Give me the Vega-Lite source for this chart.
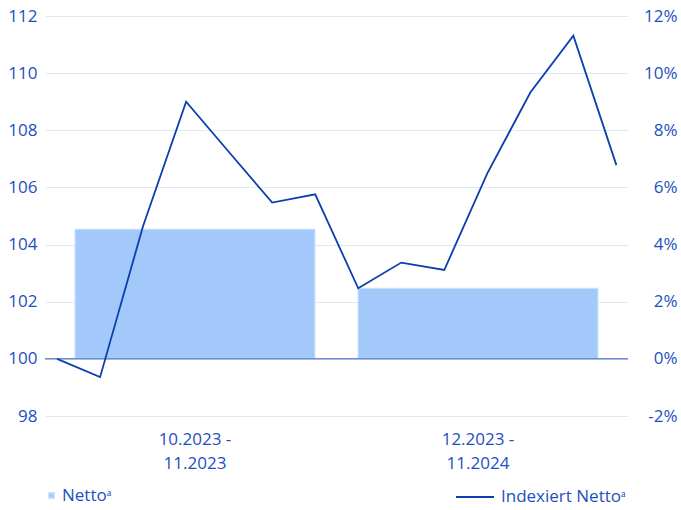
{
  "$schema": "https://vega.github.io/schema/vega-lite/v6.json",
  "width": 583,
  "height": 400,
  "autosize": {"type": "none"},
  "padding": {"left": 45, "top": 16, "right": 53, "bottom": 94},
  "background": "white",
  "config": {
    "view": {"stroke": null},
    "font": "Open Sans",
    "axis": {"labelFont": "Open Sans", "labelFontSize": 17, "labelColor": "#1d4fc0", "title": null, "domain": false, "ticks": false, "tickSize": 0},
    "legend": {"labelFont": "Open Sans", "labelFontSize": 17, "labelColor": "#1d4fc0", "title": null, "padding": 0}
  },
  "datasets": {
    "bars": [
      {"period": "10.2023 - 11.2023", "netto": 4.54},
      {"period": "12.2023 - 11.2024", "netto": 2.47}
    ],
    "series": [
      {"idx": 0, "value": 100.0},
      {"idx": 1, "value": 99.36},
      {"idx": 2, "value": 104.65},
      {"idx": 3, "value": 109.0},
      {"idx": 4, "value": 107.23},
      {"idx": 5, "value": 105.47},
      {"idx": 6, "value": 105.76},
      {"idx": 7, "value": 102.47},
      {"idx": 8, "value": 103.37},
      {"idx": 9, "value": 103.11},
      {"idx": 10, "value": 106.49},
      {"idx": 11, "value": 109.32},
      {"idx": 12, "value": 111.31},
      {"idx": 13, "value": 106.78}
    ],
    "zero": [{"base": 100}]
  },
  "layer": [
    {
      "data": {"name": "bars"},
      "mark": {"type": "bar", "stroke": "#cfe2fd", "strokeWidth": 1},
      "encoding": {
        "x": {
          "field": "period", "type": "nominal", "sort": null,
          "scale": {"paddingInner": 0.152, "paddingOuter": 0.106},
          "axis": {"orient": "bottom", "labelAngle": 0, "labelPadding": 15, "labelLineHeight": 24,
                   "labelExpr": "[substring(datum.label, 0, 9), substring(datum.label, 10)]"}
        },
        "y": {
          "field": "netto", "type": "quantitative",
          "scale": {"domain": [-2, 12], "nice": false, "zero": false},
          "axis": {"orient": "right", "values": [-2, 0, 2, 4, 6, 8, 10, 12], "grid": false,
                   "labelAlign": "right", "labelPadding": 49, "labelExpr": "datum.value + '%'"}
        },
        "color": {
          "datum": "Nettoᵃ",
          "scale": {"range": ["#a3c9fb"]},
          "legend": {"orient": "none", "legendX": -2, "legendY": 471, "symbolType": "square", "symbolSize": 30, "labelOffset": 2}
        }
      }
    },
    {
      "layer": [
        {
          "data": {"name": "zero"},
          "mark": {"type": "rule", "color": "#6b8fcf", "strokeWidth": 1.5},
          "encoding": {"y": {"field": "base", "type": "quantitative"}}
        },
        {
          "data": {"name": "series"},
          "mark": {"type": "line", "strokeWidth": 1.8},
          "encoding": {
            "x": {"field": "idx", "type": "quantitative", "scale": {"domain": [-0.28, 13.27], "nice": false, "zero": false}, "axis": null},
            "y": {
              "field": "value", "type": "quantitative",
              "scale": {"domain": [98, 112], "nice": false, "zero": false},
              "axis": {"orient": "left", "values": [98, 100, 102, 104, 106, 108, 110, 112], "grid": true, "gridColor": "#dce9fb", "gridWidth": 1, "labelPadding": 8}
            },
            "stroke": {
              "datum": "Indexiert Nettoᵃ",
              "scale": {"range": ["#0a3fae"]},
              "legend": {"orient": "none", "legendX": 410, "legendY": 461, "symbolType": "stroke", "symbolSize": 1444, "symbolStrokeWidth": 1.8, "labelOffset": 6}
            }
          }
        }
      ]
    }
  ],
  "resolve": {"scale": {"x": "independent", "y": "independent"}}
}
